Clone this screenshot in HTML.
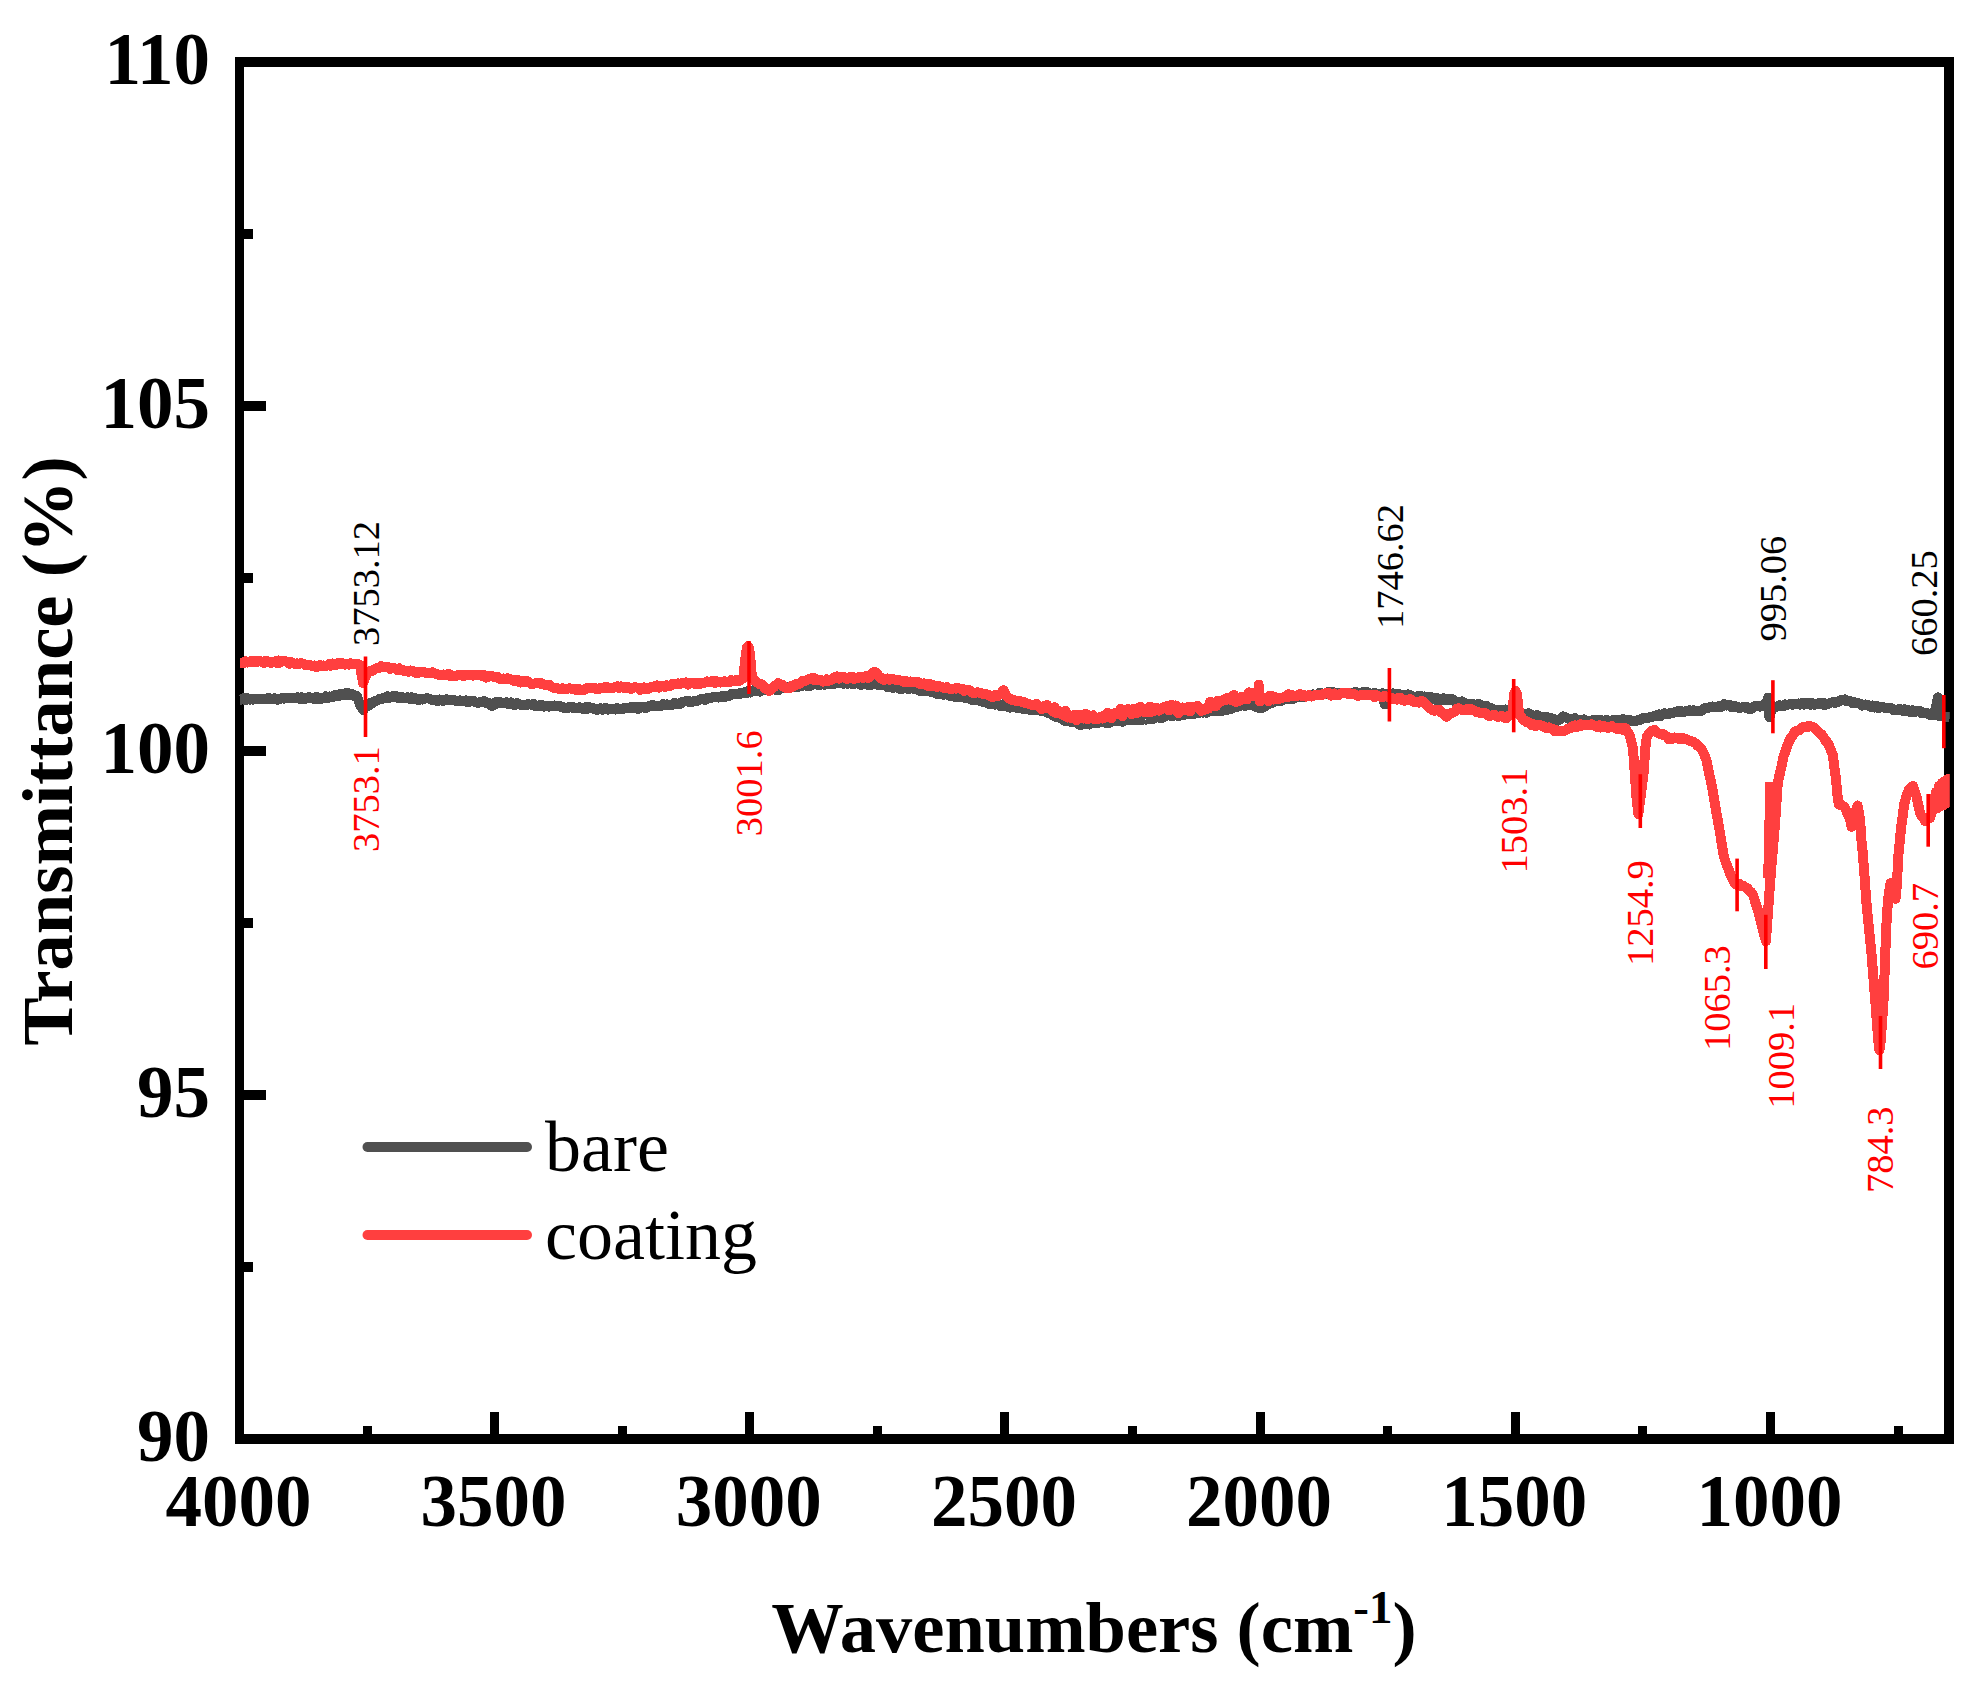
<!DOCTYPE html>
<html lang="en"><head><meta charset="utf-8"><title>FTIR transmittance spectra: bare vs coating</title>
<style>
html,body{margin:0;padding:0;background:#fff;}
body{width:1986px;height:1693px;overflow:hidden;}
svg{display:block;}
text{font-family:"Liberation Serif","Times New Roman",Times,serif;}
.b{font-weight:bold;font-size:73px;fill:#000;}
.lg{font-size:72px;fill:#000;}
.an{font-size:38.5px;}
</style></head><body>
<svg width="1986" height="1693" viewBox="0 0 1986 1693" role="img" aria-label="FTIR transmittance spectra of bare and coated samples">
<rect width="1986" height="1693" fill="#fff"/>
<g fill="#000" shape-rendering="crispEdges">
<rect x="235" y="57" width="9" height="1387"/>
<rect x="1944" y="57" width="10" height="1387"/>
<rect x="235" y="57" width="1719" height="10"/>
<rect x="235" y="1434" width="1719" height="10"/>
<rect x="244" y="401.2" width="22" height="10"/>
<rect x="244" y="745.5" width="22" height="10"/>
<rect x="244" y="1089.8" width="22" height="10"/>
<rect x="244" y="229.1" width="9" height="10"/>
<rect x="244" y="573.4" width="9" height="10"/>
<rect x="244" y="917.6" width="9" height="10"/>
<rect x="244" y="1261.9" width="9" height="10"/>
<rect x="490.1" y="1412" width="9" height="22"/>
<rect x="745.3" y="1412" width="9" height="22"/>
<rect x="1000.4" y="1412" width="9" height="22"/>
<rect x="1255.6" y="1412" width="9" height="22"/>
<rect x="1510.7" y="1412" width="9" height="22"/>
<rect x="1765.9" y="1412" width="9" height="22"/>
<rect x="362.6" y="1426" width="9" height="8"/>
<rect x="617.7" y="1426" width="9" height="8"/>
<rect x="872.9" y="1426" width="9" height="8"/>
<rect x="1128.0" y="1426" width="9" height="8"/>
<rect x="1383.2" y="1426" width="9" height="8"/>
<rect x="1638.3" y="1426" width="9" height="8"/>
<rect x="1893.5" y="1426" width="9" height="8"/>
</g>
<g class="b" text-anchor="end">
<text x="210" y="84.0">110</text>
<text x="210" y="428.2">105</text>
<text x="210" y="772.5">100</text>
<text x="210" y="1116.8">95</text>
<text x="210" y="1461.0">90</text>
</g>
<g class="b" text-anchor="middle">
<text x="238.5" y="1526">4000</text>
<text x="493.6" y="1526">3500</text>
<text x="748.8" y="1526">3000</text>
<text x="1003.9" y="1526">2500</text>
<text x="1259.1" y="1526">2000</text>
<text x="1514.2" y="1526">1500</text>
<text x="1769.4" y="1526">1000</text>
</g>
<text class="b" style="font-size:72.5px" text-anchor="middle" x="1094" y="1652">Wavenumbers (cm<tspan style="font-size:47px" dy="-29">-1</tspan><tspan dy="29">)</tspan></text>
<text class="b" style="font-size:72.6px" text-anchor="middle" transform="translate(72.3 751) rotate(-90)">Transmittance (%)</text>
<clipPath id="plotclip"><rect x="238.9" y="60" width="1710.9" height="1380"/></clipPath>
<g fill="none" stroke-linejoin="round" stroke-linecap="butt" shape-rendering="crispEdges" clip-path="url(#plotclip)">
<path stroke="#505050" stroke-width="10" d="M240.0 699.5 L241.9 699.5 L243.8 698.2 L245.8 700.3 L247.7 698.4 L249.6 699.6 L251.5 699.4 L253.4 699.6 L255.3 698.8 L257.3 699.0 L259.2 699.4 L261.1 699.0 L263.0 699.5 L264.9 699.0 L266.9 698.9 L268.8 697.8 L270.7 699.3 L272.6 699.0 L274.5 698.3 L276.4 699.6 L278.4 699.6 L280.3 698.8 L282.2 698.0 L284.1 698.7 L286.0 697.7 L288.0 697.7 L289.9 698.5 L291.8 697.6 L293.7 698.4 L295.6 698.5 L297.5 697.3 L299.5 698.7 L301.4 697.3 L303.3 698.9 L305.2 699.0 L307.1 698.2 L309.1 697.0 L311.0 698.1 L312.9 697.8 L314.8 699.2 L316.7 697.0 L318.6 698.8 L320.6 699.0 L322.4 698.1 L324.1 698.1 L325.9 696.4 L327.7 697.9 L329.5 696.5 L331.3 697.3 L333.1 696.9 L334.9 695.0 L336.7 696.1 L338.4 696.2 L340.1 694.0 L341.9 694.3 L343.6 695.0 L345.3 693.4 L347.0 694.8 L348.8 693.2 L350.4 694.8 L352.0 694.1 L353.6 695.3 L355.2 696.7 L356.8 696.2 L358.2 699.6 L359.5 703.2 L360.8 706.4 L362.1 708.1 L363.3 710.2 L364.6 708.2 L365.9 707.2 L367.6 705.8 L369.2 705.2 L370.9 702.9 L372.6 703.2 L374.3 701.2 L376.0 701.1 L377.6 700.4 L379.3 699.1 L381.0 699.3 L382.7 698.2 L384.3 697.9 L386.0 698.2 L387.7 696.2 L389.4 697.7 L391.1 696.6 L392.9 696.2 L394.7 697.4 L396.6 696.3 L398.4 698.2 L400.2 697.5 L402.0 697.1 L403.9 698.3 L405.7 697.7 L407.5 697.3 L409.4 698.8 L411.2 697.4 L413.1 699.4 L415.0 698.1 L416.9 699.2 L418.8 700.2 L420.6 699.3 L422.5 699.6 L424.4 698.9 L426.3 698.3 L428.2 698.5 L430.1 698.9 L432.0 700.1 L433.9 699.8 L435.7 700.1 L437.6 701.2 L439.5 699.5 L441.4 699.8 L443.3 700.9 L445.2 699.4 L447.1 699.4 L449.0 700.4 L450.9 699.8 L452.7 700.5 L454.6 700.2 L456.5 701.2 L458.4 701.3 L460.3 700.4 L462.2 701.5 L464.1 701.2 L466.0 700.4 L467.8 702.5 L469.7 700.8 L471.6 700.6 L473.4 700.6 L475.2 702.1 L477.0 702.7 L478.8 702.6 L480.6 701.8 L482.4 701.6 L484.2 701.1 L485.9 702.8 L487.7 702.6 L489.1 703.5 L490.4 705.1 L491.8 706.1 L493.1 705.5 L494.4 704.0 L495.8 701.9 L497.7 703.6 L499.5 701.7 L501.4 703.0 L503.3 702.9 L505.1 702.6 L507.0 702.3 L508.9 704.2 L510.8 702.5 L512.6 703.9 L514.5 705.0 L516.4 703.2 L518.2 703.5 L520.1 704.6 L522.0 704.5 L523.9 705.0 L525.8 705.5 L527.7 704.1 L529.6 704.5 L531.6 704.6 L533.5 704.1 L535.4 706.3 L537.3 706.1 L539.2 706.1 L541.2 704.5 L543.1 706.6 L545.0 706.5 L546.9 705.9 L548.8 706.7 L550.7 706.1 L552.7 705.7 L554.6 705.5 L556.5 705.9 L558.4 705.6 L560.3 706.4 L562.3 707.6 L564.2 707.5 L566.1 708.0 L568.0 707.8 L569.9 706.7 L571.8 707.6 L573.8 707.4 L575.7 708.3 L577.6 707.8 L579.5 707.2 L581.4 708.2 L583.4 709.1 L585.3 707.4 L587.2 709.1 L589.1 707.1 L591.0 707.8 L592.9 707.8 L594.9 709.2 L596.8 709.8 L598.7 709.4 L600.6 708.4 L602.5 709.9 L604.4 708.4 L606.2 708.1 L608.0 709.7 L609.9 708.9 L611.7 709.0 L613.5 708.8 L615.4 709.5 L617.2 708.1 L619.0 709.0 L620.8 708.5 L622.7 708.9 L624.6 707.8 L626.5 708.5 L628.5 708.1 L630.4 707.4 L632.3 707.2 L634.2 708.3 L636.2 706.8 L638.1 709.0 L640.0 707.1 L641.9 706.6 L643.8 706.6 L645.8 708.2 L647.7 706.6 L649.6 705.9 L651.5 705.4 L653.4 705.2 L655.3 706.5 L657.3 706.1 L659.2 706.0 L661.1 705.9 L663.0 704.1 L664.9 705.0 L666.9 704.3 L668.8 705.1 L670.7 704.8 L672.6 704.8 L674.5 702.6 L676.4 704.2 L678.4 704.1 L680.3 703.9 L682.2 701.7 L684.1 701.7 L686.0 701.2 L688.0 700.7 L689.9 702.3 L691.8 701.9 L693.7 701.2 L695.6 701.3 L697.5 700.6 L699.5 699.6 L701.4 698.8 L703.3 698.5 L705.2 699.8 L707.1 698.2 L709.1 698.2 L711.0 698.1 L712.9 696.9 L714.8 697.2 L716.7 697.0 L718.6 697.6 L720.6 696.6 L722.4 696.1 L724.3 697.2 L726.2 695.9 L728.1 696.3 L730.0 695.5 L731.8 693.8 L733.7 694.3 L735.6 694.0 L737.5 694.4 L739.4 693.2 L741.2 693.6 L743.1 692.9 L745.0 691.9 L746.9 693.0 L748.8 690.9 L750.7 692.4 L752.6 690.7 L754.4 690.1 L756.3 690.3 L758.2 691.4 L760.1 691.7 L762.0 689.3 L763.9 690.2 L765.8 690.0 L767.7 690.5 L769.6 688.9 L771.5 689.4 L773.4 688.9 L775.3 689.8 L777.2 688.2 L779.1 689.7 L781.0 687.9 L782.9 687.5 L784.8 688.4 L786.7 687.7 L788.5 686.6 L790.4 687.6 L792.3 686.1 L794.2 687.5 L796.1 687.1 L798.0 687.0 L799.9 686.4 L801.8 685.6 L803.6 685.5 L805.5 685.2 L807.4 686.1 L809.3 684.0 L811.2 685.7 L813.1 683.5 L815.0 683.8 L816.9 683.8 L818.8 685.3 L820.6 684.2 L822.5 683.7 L824.4 684.8 L826.3 683.1 L828.2 683.6 L830.1 683.6 L832.0 684.0 L833.9 683.9 L835.7 683.5 L837.6 682.7 L839.5 682.5 L841.4 681.9 L843.3 683.7 L845.2 683.4 L847.2 683.7 L849.1 682.5 L851.0 683.2 L852.9 684.2 L854.8 683.8 L856.8 682.9 L858.7 683.8 L860.6 685.0 L862.5 683.5 L864.4 683.5 L866.3 683.9 L868.3 685.0 L870.2 685.5 L872.1 683.9 L874.0 684.0 L875.9 684.4 L877.9 684.7 L879.8 685.3 L881.7 684.6 L883.6 685.2 L885.5 685.1 L887.4 687.2 L889.4 686.9 L891.3 685.7 L893.2 687.9 L895.1 686.1 L897.0 687.0 L899.0 688.7 L900.9 688.5 L902.8 688.6 L904.7 688.1 L906.6 687.8 L908.5 689.1 L910.5 688.1 L912.4 688.5 L914.3 689.2 L916.2 688.6 L918.1 689.7 L920.1 690.9 L922.0 690.9 L923.9 690.8 L925.8 691.4 L927.7 691.3 L929.6 691.0 L931.6 692.3 L933.5 692.2 L935.4 693.3 L937.3 694.0 L939.2 693.3 L941.2 693.9 L943.1 694.7 L945.0 694.3 L946.9 694.2 L948.8 695.6 L950.7 696.3 L952.7 696.4 L954.6 696.6 L956.5 697.2 L958.4 697.2 L960.3 697.4 L962.3 697.4 L964.2 697.5 L966.1 698.5 L968.0 697.8 L969.9 698.8 L971.8 700.0 L973.8 700.2 L975.7 700.4 L977.6 700.0 L979.5 700.8 L981.4 701.2 L983.4 702.0 L985.3 701.9 L987.2 702.8 L989.1 703.8 L991.0 702.5 L992.9 703.9 L994.9 704.6 L996.8 704.1 L998.7 704.7 L1000.6 706.2 L1002.5 704.5 L1004.4 705.9 L1006.2 705.3 L1008.0 707.0 L1009.9 707.6 L1011.7 706.9 L1013.5 706.3 L1015.4 707.6 L1017.2 707.8 L1019.0 708.5 L1020.8 708.3 L1022.7 708.9 L1024.6 709.5 L1026.5 708.8 L1028.5 708.7 L1030.4 710.1 L1032.3 708.4 L1034.2 709.7 L1036.2 709.1 L1038.1 710.1 L1040.0 708.9 L1041.8 711.2 L1043.7 710.9 L1045.5 711.2 L1047.3 712.4 L1049.2 713.5 L1051.0 713.6 L1052.8 715.2 L1054.6 716.0 L1056.5 717.3 L1058.3 717.5 L1060.1 718.1 L1062.0 718.6 L1063.8 720.1 L1065.6 721.1 L1067.5 720.7 L1069.3 720.6 L1071.1 722.3 L1073.0 722.0 L1074.8 722.1 L1076.6 722.5 L1078.5 724.3 L1080.3 725.0 L1082.1 724.4 L1083.9 723.8 L1085.8 723.9 L1087.6 722.9 L1089.4 724.4 L1091.3 722.8 L1093.1 723.3 L1094.9 723.5 L1096.8 723.4 L1098.6 722.4 L1100.4 721.7 L1102.3 722.3 L1104.1 721.1 L1105.9 722.8 L1107.7 721.5 L1109.6 722.7 L1111.4 721.1 L1113.2 721.3 L1115.1 720.9 L1116.9 721.2 L1118.7 720.6 L1120.6 720.1 L1122.5 721.6 L1124.4 720.3 L1126.3 720.1 L1128.2 720.0 L1130.2 720.2 L1132.1 719.9 L1134.0 720.2 L1135.9 720.1 L1137.8 719.2 L1139.7 720.3 L1141.7 720.0 L1143.6 717.9 L1145.5 719.5 L1147.4 719.5 L1149.3 719.0 L1151.3 717.3 L1153.2 718.8 L1155.1 718.1 L1157.0 716.4 L1158.9 716.2 L1160.8 718.3 L1162.8 717.3 L1164.7 716.2 L1166.6 715.6 L1168.5 715.4 L1170.4 715.4 L1172.4 716.4 L1174.3 715.2 L1176.2 714.5 L1178.1 716.0 L1180.0 715.5 L1181.9 713.8 L1183.9 715.2 L1185.8 714.3 L1187.7 714.5 L1189.6 714.0 L1191.5 714.3 L1193.5 713.8 L1195.4 713.7 L1197.3 712.0 L1199.2 712.9 L1201.1 712.3 L1203.0 712.7 L1204.8 711.8 L1206.6 712.8 L1208.5 711.9 L1210.3 711.1 L1212.1 711.0 L1213.9 710.6 L1215.8 711.4 L1217.6 710.3 L1219.4 711.2 L1221.3 710.5 L1223.1 710.6 L1224.9 710.1 L1226.8 709.6 L1228.6 709.7 L1230.4 707.4 L1232.3 708.6 L1234.1 707.3 L1235.9 706.9 L1237.7 706.6 L1239.6 706.4 L1241.4 704.8 L1243.1 704.8 L1244.8 706.1 L1246.4 703.8 L1248.1 705.1 L1249.8 705.0 L1251.5 703.6 L1253.2 705.3 L1254.8 706.1 L1256.5 707.2 L1258.2 706.6 L1259.9 708.5 L1261.6 708.2 L1263.2 707.1 L1264.9 706.8 L1266.6 704.4 L1268.3 704.5 L1269.9 703.3 L1271.6 701.8 L1273.5 702.5 L1275.4 701.1 L1277.3 701.0 L1279.2 700.8 L1281.1 700.9 L1283.0 699.4 L1284.8 699.5 L1286.7 699.1 L1288.6 699.1 L1290.5 699.3 L1292.4 697.8 L1294.3 698.6 L1296.2 697.3 L1298.1 697.2 L1299.9 696.3 L1301.8 696.5 L1303.7 697.3 L1305.5 696.3 L1307.3 696.3 L1309.2 695.0 L1311.0 694.7 L1312.8 694.4 L1314.6 694.7 L1316.5 694.6 L1318.3 694.6 L1320.1 692.7 L1322.0 694.0 L1323.8 694.3 L1325.6 693.4 L1327.5 692.1 L1329.3 692.6 L1331.1 691.8 L1333.0 692.1 L1334.8 693.8 L1336.6 693.0 L1338.5 693.0 L1340.3 693.2 L1342.1 693.5 L1344.0 692.8 L1346.0 692.8 L1347.9 692.9 L1349.8 693.1 L1351.7 692.9 L1353.6 693.2 L1355.5 692.0 L1357.5 693.2 L1359.4 692.8 L1361.3 693.6 L1363.2 692.0 L1365.1 692.2 L1367.1 691.9 L1369.0 693.8 L1370.9 694.2 L1372.8 693.6 L1374.7 692.9 L1376.6 694.1 L1378.6 694.1 L1380.5 693.6 L1382.4 693.3 L1383.6 698.9 L1384.8 704.5 L1386.1 699.4 L1387.4 694.3 L1389.3 694.9 L1391.2 695.7 L1393.1 693.5 L1395.0 694.8 L1396.9 693.5 L1398.8 693.8 L1400.6 695.6 L1402.5 695.0 L1404.4 696.0 L1406.2 695.1 L1408.0 694.3 L1409.9 695.3 L1411.7 696.0 L1413.5 697.0 L1415.4 697.3 L1417.2 696.3 L1419.0 696.3 L1420.8 695.7 L1422.7 697.2 L1424.6 696.5 L1426.5 696.7 L1428.5 696.7 L1430.4 697.0 L1432.3 698.8 L1434.2 697.8 L1436.2 700.0 L1438.1 698.3 L1440.0 700.5 L1441.7 698.6 L1443.5 698.3 L1445.2 700.1 L1447.0 698.9 L1448.7 700.2 L1450.5 698.9 L1452.4 699.1 L1454.4 701.1 L1456.4 701.4 L1458.3 702.2 L1460.3 702.3 L1462.3 701.4 L1464.2 703.0 L1466.2 703.7 L1468.1 703.5 L1470.1 704.9 L1472.1 703.7 L1474.0 705.6 L1476.0 705.4 L1478.0 704.1 L1479.9 704.4 L1481.9 706.2 L1483.9 706.9 L1485.8 705.7 L1487.6 706.9 L1489.3 708.3 L1491.1 708.0 L1492.8 710.0 L1494.6 710.0 L1496.3 709.6 L1498.1 710.3 L1500.0 710.7 L1501.8 710.3 L1503.6 710.8 L1505.5 709.5 L1507.4 711.3 L1509.4 710.7 L1511.4 711.6 L1513.3 711.9 L1515.3 711.8 L1517.2 712.0 L1519.2 713.2 L1521.2 713.9 L1523.1 713.9 L1525.1 713.7 L1527.1 713.5 L1529.0 713.3 L1531.0 715.7 L1533.0 715.4 L1534.9 716.0 L1536.9 715.2 L1538.8 716.2 L1540.8 717.4 L1542.8 717.4 L1544.7 717.2 L1546.6 717.0 L1548.5 717.7 L1550.4 719.0 L1552.2 718.4 L1554.1 719.4 L1556.0 719.7 L1557.8 720.6 L1559.6 719.6 L1561.3 717.9 L1563.1 716.4 L1565.0 717.3 L1567.0 718.1 L1569.0 718.8 L1570.9 719.7 L1572.8 720.0 L1574.7 718.1 L1576.5 720.1 L1578.4 720.2 L1580.3 720.5 L1582.1 719.9 L1584.0 719.3 L1585.9 720.8 L1587.8 720.9 L1589.6 720.7 L1591.5 721.4 L1593.4 720.1 L1595.2 719.6 L1597.1 720.9 L1599.0 721.5 L1600.8 719.9 L1602.7 721.3 L1604.6 721.7 L1606.5 719.9 L1608.3 720.8 L1610.2 720.9 L1612.1 720.3 L1613.9 719.6 L1615.8 719.7 L1617.7 720.9 L1619.6 721.0 L1621.4 720.1 L1623.3 719.1 L1625.2 721.0 L1627.0 720.9 L1628.9 719.6 L1630.8 720.6 L1632.6 721.4 L1634.5 721.4 L1636.4 720.6 L1638.4 720.0 L1640.3 719.7 L1642.3 718.4 L1644.2 717.9 L1646.1 717.5 L1647.9 718.2 L1649.7 717.1 L1651.6 717.1 L1653.4 716.4 L1655.2 716.2 L1657.1 715.1 L1658.9 714.4 L1660.7 716.1 L1662.6 714.3 L1664.5 713.4 L1666.5 714.3 L1668.5 714.3 L1670.4 712.6 L1672.4 713.2 L1674.4 712.3 L1676.3 712.4 L1678.3 710.9 L1680.2 710.6 L1682.2 712.5 L1684.1 712.1 L1686.0 711.0 L1687.8 711.1 L1689.7 710.2 L1691.6 711.3 L1693.4 710.3 L1695.3 711.4 L1697.3 710.8 L1699.3 710.7 L1701.3 710.8 L1703.2 708.9 L1705.1 708.0 L1707.0 708.0 L1708.9 707.5 L1710.9 706.9 L1712.8 706.5 L1714.7 707.2 L1716.6 707.5 L1718.5 706.2 L1720.5 706.9 L1722.4 706.4 L1724.3 704.2 L1726.2 705.6 L1728.1 705.4 L1730.0 705.0 L1731.9 707.1 L1733.8 705.7 L1735.7 706.7 L1737.6 707.1 L1739.5 708.0 L1741.4 707.6 L1743.3 707.2 L1745.2 707.6 L1747.1 707.1 L1749.0 709.2 L1750.9 709.3 L1752.7 707.3 L1754.4 706.4 L1756.2 706.3 L1758.0 706.0 L1759.7 706.6 L1761.5 706.1 L1763.3 705.5 L1764.6 703.5 L1765.9 704.1 L1767.0 701.0 L1768.1 697.7 L1769.5 717.5 L1770.8 711.7 L1772.1 705.8 L1773.9 706.9 L1775.7 707.1 L1777.6 706.3 L1779.5 705.3 L1781.4 705.8 L1783.3 706.1 L1785.1 704.4 L1787.0 704.8 L1788.9 704.5 L1790.8 704.0 L1792.7 704.7 L1794.6 703.8 L1796.5 703.9 L1798.4 703.5 L1800.3 704.6 L1802.2 702.9 L1804.0 704.5 L1806.0 703.1 L1808.0 702.6 L1810.0 704.8 L1812.0 703.0 L1814.0 704.7 L1816.0 704.4 L1818.0 704.4 L1820.0 702.6 L1821.6 703.5 L1823.2 702.9 L1824.8 705.0 L1826.8 704.4 L1828.8 703.6 L1830.8 702.8 L1832.7 702.2 L1834.7 702.9 L1836.7 701.8 L1838.7 701.7 L1840.7 700.3 L1842.7 700.1 L1844.7 699.4 L1846.6 701.3 L1848.5 701.4 L1850.4 701.1 L1852.4 703.1 L1854.3 702.3 L1856.2 703.1 L1858.2 703.1 L1860.1 703.8 L1862.0 705.6 L1863.8 704.7 L1865.6 704.5 L1867.3 705.5 L1869.1 705.4 L1870.9 707.0 L1872.7 705.4 L1874.4 707.6 L1876.3 705.8 L1878.2 707.9 L1880.1 707.7 L1882.1 706.9 L1884.0 707.7 L1885.9 707.5 L1887.8 707.7 L1889.7 707.8 L1891.6 708.5 L1893.5 710.2 L1895.4 710.4 L1897.3 710.5 L1899.2 708.8 L1901.1 709.5 L1903.0 711.1 L1905.0 709.4 L1906.9 711.2 L1908.8 710.4 L1910.7 712.3 L1912.6 710.2 L1914.5 712.3 L1916.4 711.5 L1918.3 711.2 L1920.2 711.1 L1922.1 713.3 L1924.0 712.8 L1926.0 712.6 L1928.0 713.6 L1930.0 715.1 L1932.0 714.1 L1934.0 715.3 L1935.2 709.8 L1936.4 704.7 L1937.9 697.4 L1939.0 707.3 L1940.2 716.4 L1941.7 716.1 L1943.3 716.1 L1944.8 717.5 L1946.4 717.2 L1948.2 716.6 L1950.1 717.2"/>
<path stroke="#ff3f3f" stroke-width="10" d="M240.0 662.6 L241.8 662.6 L243.7 663.0 L245.5 661.3 L247.3 662.6 L249.2 662.1 L251.0 661.2 L252.8 662.4 L254.6 661.1 L256.5 662.1 L258.3 661.1 L260.1 661.1 L262.0 662.0 L263.8 663.0 L265.6 661.0 L267.5 661.3 L269.3 662.3 L271.1 663.1 L273.0 662.1 L274.8 661.5 L276.6 663.0 L278.5 660.4 L280.3 662.5 L282.1 661.3 L283.9 661.2 L285.8 661.4 L287.6 662.1 L289.4 663.6 L291.3 662.3 L293.1 663.5 L294.9 663.9 L296.8 663.4 L298.6 664.1 L300.4 663.2 L302.2 663.4 L304.0 664.0 L305.8 665.4 L307.6 665.0 L309.4 664.9 L311.2 665.8 L313.0 665.7 L314.7 665.5 L316.5 667.0 L318.3 666.6 L320.1 665.2 L321.8 665.8 L323.6 665.5 L325.3 666.2 L327.1 665.6 L328.9 664.3 L330.6 665.9 L332.5 663.5 L334.3 664.2 L336.1 665.1 L338.0 663.3 L339.8 664.2 L341.6 662.9 L343.5 664.5 L345.3 664.6 L347.1 664.0 L348.9 664.7 L350.8 663.2 L352.6 664.3 L354.5 664.3 L356.3 664.4 L358.2 664.3 L360.0 664.8 L361.5 674.5 L363.1 683.2 L364.9 678.1 L366.5 674.2 L368.1 671.7 L369.9 671.0 L371.8 671.2 L373.6 670.2 L375.5 668.5 L377.3 668.2 L379.1 668.2 L381.0 666.1 L382.8 667.4 L384.6 666.9 L386.5 667.0 L388.3 667.0 L390.1 669.0 L392.0 667.7 L393.8 668.2 L395.6 668.7 L397.5 670.2 L399.3 668.4 L401.1 669.6 L403.0 670.1 L404.8 671.2 L406.6 671.3 L408.5 671.7 L410.3 670.5 L412.1 671.1 L413.9 671.3 L415.8 672.8 L417.6 673.3 L419.4 671.6 L421.3 671.9 L423.1 672.2 L424.9 672.3 L426.8 673.1 L428.6 673.5 L430.4 672.8 L432.3 672.3 L434.1 673.5 L435.9 673.5 L437.7 674.2 L439.6 675.3 L441.4 674.8 L443.2 674.5 L445.1 674.9 L446.9 675.2 L448.7 673.7 L450.6 676.0 L452.4 675.8 L454.2 676.2 L456.1 676.1 L457.9 675.2 L459.7 675.3 L461.6 674.6 L463.4 676.1 L465.3 674.7 L467.2 674.7 L469.1 675.2 L471.0 675.1 L472.9 675.7 L474.8 674.9 L476.7 674.9 L478.5 675.3 L480.4 675.3 L482.3 676.0 L484.2 675.2 L486.1 677.6 L488.0 676.9 L489.9 675.7 L491.8 676.1 L493.7 676.7 L495.5 677.0 L497.4 676.8 L499.3 678.8 L501.2 679.5 L503.1 678.5 L505.0 678.9 L506.9 678.3 L508.8 678.6 L510.6 679.5 L512.5 679.6 L514.4 681.3 L516.3 680.0 L518.2 680.0 L520.1 682.5 L522.0 681.8 L523.8 681.0 L525.6 682.2 L527.5 681.1 L529.3 682.6 L531.1 683.9 L533.0 683.8 L534.8 683.5 L536.6 682.6 L538.5 683.1 L540.3 682.7 L542.1 684.4 L544.0 684.3 L545.8 685.3 L547.7 684.8 L549.6 685.0 L551.4 686.8 L553.3 687.7 L555.1 687.8 L557.0 688.2 L558.8 688.7 L560.7 689.0 L562.6 688.3 L564.4 689.4 L566.3 689.4 L568.1 688.5 L569.9 688.4 L571.7 688.9 L573.4 688.7 L575.2 689.8 L577.0 690.4 L578.8 688.9 L580.6 690.1 L582.4 690.1 L584.2 689.9 L586.1 688.3 L587.9 687.8 L589.7 687.7 L591.6 687.5 L593.4 687.5 L595.2 688.5 L597.0 689.1 L598.9 688.9 L600.7 687.8 L602.5 688.2 L604.4 688.5 L606.2 686.5 L608.0 688.0 L609.9 688.5 L611.7 688.1 L613.5 687.9 L615.4 687.1 L617.2 686.2 L619.0 687.8 L620.8 686.4 L622.7 687.6 L624.6 688.2 L626.5 687.0 L628.5 687.2 L630.4 688.8 L632.3 688.5 L634.2 687.3 L636.2 687.4 L638.1 687.7 L640.0 689.8 L641.9 689.3 L643.8 687.5 L645.8 688.9 L647.7 689.0 L649.6 688.0 L651.5 687.0 L653.4 687.3 L655.3 686.0 L657.3 685.4 L659.2 687.6 L661.1 686.5 L663.0 686.0 L664.9 686.8 L666.9 685.3 L668.8 686.1 L670.7 685.8 L672.6 684.0 L674.5 683.9 L676.4 683.7 L678.4 683.4 L680.3 684.0 L682.2 683.0 L684.1 683.4 L686.0 682.5 L688.0 684.5 L689.9 683.0 L691.8 683.1 L693.7 683.4 L695.6 684.2 L697.5 682.8 L699.5 684.0 L701.4 682.8 L703.3 682.8 L705.2 682.7 L707.1 681.3 L709.1 682.3 L711.0 681.5 L712.9 681.0 L714.8 683.0 L716.7 681.3 L718.6 682.0 L720.6 682.6 L722.4 682.0 L724.2 681.3 L726.0 681.6 L727.8 681.6 L729.6 682.1 L731.4 680.2 L733.3 681.3 L735.1 680.3 L736.9 680.3 L738.7 681.2 L740.2 680.0 L741.6 679.3 L743.1 678.4 L744.5 666.4 L745.9 654.1 L746.9 647.8 L748.0 646.1 L749.0 647.7 L750.0 654.2 L751.0 666.2 L752.0 678.4 L753.6 679.4 L755.2 681.3 L756.8 682.1 L758.3 683.3 L759.8 684.3 L761.3 684.1 L762.9 685.5 L764.4 687.5 L765.9 688.9 L767.4 689.4 L768.9 690.8 L770.6 690.0 L772.3 688.1 L773.9 687.1 L775.3 685.3 L776.6 684.5 L778.0 683.3 L779.8 684.6 L781.6 684.4 L783.4 686.5 L785.2 687.6 L787.0 687.7 L788.8 688.3 L790.5 687.7 L792.2 685.5 L793.9 686.1 L795.7 684.2 L797.4 683.6 L799.1 683.8 L800.8 682.9 L802.6 680.9 L804.3 680.9 L806.0 680.5 L807.7 679.6 L809.5 678.7 L811.2 678.3 L812.9 679.6 L814.7 678.4 L816.4 680.0 L818.1 680.1 L819.8 679.5 L821.6 680.6 L823.3 681.6 L825.0 680.9 L826.7 679.4 L828.5 680.9 L830.2 679.9 L831.9 679.8 L833.6 677.4 L835.4 677.1 L837.2 676.4 L839.1 678.5 L841.0 677.1 L842.8 676.7 L844.7 677.5 L846.6 678.9 L848.5 678.6 L850.3 677.1 L852.2 676.8 L854.1 678.9 L855.9 677.9 L857.8 678.3 L859.7 676.6 L861.6 676.6 L863.2 678.0 L864.8 677.1 L866.4 676.1 L868.0 678.0 L869.6 676.9 L871.3 675.3 L873.0 672.5 L874.6 671.8 L876.3 672.5 L878.0 675.4 L879.7 676.7 L880.7 677.5 L881.7 678.9 L883.6 680.0 L885.5 678.6 L887.4 678.5 L889.4 679.8 L891.3 679.3 L893.2 679.2 L895.1 679.6 L897.0 679.5 L899.0 680.2 L900.9 680.7 L902.8 680.9 L904.7 682.3 L906.6 681.3 L908.5 682.1 L910.5 681.5 L912.4 682.2 L914.3 681.6 L916.2 682.4 L918.1 682.1 L920.1 684.1 L922.0 683.9 L923.9 683.3 L925.8 684.3 L927.7 685.7 L929.6 684.0 L931.6 686.0 L933.5 685.3 L935.4 685.8 L937.3 686.9 L939.2 686.1 L941.2 686.7 L943.1 687.4 L945.0 688.4 L946.9 687.1 L948.8 688.6 L950.7 688.6 L952.7 688.7 L954.6 688.4 L956.5 688.6 L958.4 688.2 L960.3 688.6 L962.3 688.8 L964.1 690.8 L966.0 690.0 L967.9 690.2 L969.8 690.4 L971.7 692.5 L973.6 692.9 L975.5 692.9 L977.4 692.3 L979.2 692.6 L981.1 693.1 L983.0 693.9 L984.9 693.6 L986.8 694.6 L988.7 694.6 L990.6 696.6 L992.5 697.0 L994.1 695.8 L995.7 694.8 L997.3 696.4 L998.9 694.6 L1000.5 694.7 L1002.0 692.1 L1003.5 690.3 L1004.9 692.7 L1006.2 695.1 L1007.6 697.0 L1009.3 698.6 L1010.9 698.9 L1012.6 700.3 L1014.6 700.2 L1016.5 701.3 L1018.5 700.8 L1020.4 701.1 L1022.4 702.1 L1024.3 702.2 L1026.3 703.4 L1028.3 703.6 L1030.2 704.5 L1032.2 704.6 L1034.1 705.1 L1036.1 703.8 L1038.0 705.7 L1040.0 706.6 L1041.8 709.2 L1043.7 706.4 L1045.5 705.6 L1047.3 705.1 L1049.2 708.9 L1051.0 708.9 L1052.8 711.7 L1054.6 707.2 L1056.5 713.1 L1058.3 710.6 L1060.1 713.1 L1062.0 714.7 L1063.8 712.8 L1065.6 710.9 L1067.5 717.6 L1069.3 715.3 L1071.1 718.1 L1073.0 715.3 L1074.8 714.9 L1076.6 720.0 L1078.5 716.5 L1080.3 715.1 L1082.1 716.6 L1083.9 718.6 L1085.8 713.8 L1087.6 719.0 L1089.4 717.7 L1091.3 718.2 L1093.1 715.3 L1094.9 719.4 L1096.8 719.4 L1098.6 718.4 L1100.4 716.5 L1102.3 718.6 L1104.1 715.4 L1105.9 717.6 L1107.7 712.8 L1109.6 716.5 L1111.4 718.2 L1113.2 713.6 L1115.1 712.9 L1116.9 713.1 L1118.7 713.8 L1120.6 708.6 L1122.4 716.2 L1124.2 711.6 L1126.1 710.0 L1127.9 709.0 L1129.7 710.1 L1131.5 714.3 L1133.4 709.0 L1135.2 709.0 L1137.0 713.0 L1138.9 707.9 L1140.7 706.7 L1142.5 710.9 L1144.4 712.0 L1146.2 710.3 L1148.0 712.2 L1149.9 706.5 L1151.7 711.8 L1153.5 711.2 L1155.4 707.6 L1157.2 708.1 L1159.0 710.5 L1160.8 709.4 L1162.5 708.3 L1164.1 706.9 L1165.7 708.6 L1167.3 705.7 L1168.9 710.2 L1170.2 709.8 L1171.6 705.0 L1172.9 706.7 L1174.3 707.6 L1175.6 705.5 L1177.0 712.0 L1178.8 713.1 L1180.7 707.8 L1182.5 707.5 L1184.4 710.1 L1186.3 709.8 L1188.1 706.8 L1190.0 711.4 L1191.8 709.0 L1193.7 706.9 L1195.6 707.3 L1197.4 705.7 L1199.3 708.1 L1201.1 710.8 L1203.0 709.9 L1204.8 709.7 L1206.6 707.5 L1208.5 708.6 L1210.3 701.7 L1212.1 703.3 L1213.9 705.7 L1215.8 706.1 L1217.6 700.8 L1219.4 701.1 L1221.3 701.6 L1223.1 699.8 L1224.9 700.4 L1226.8 698.0 L1228.6 698.1 L1230.4 699.8 L1232.3 696.3 L1234.1 695.0 L1235.9 702.0 L1237.7 699.7 L1239.6 700.8 L1241.4 696.9 L1243.3 698.0 L1245.1 698.3 L1246.9 699.5 L1248.8 692.4 L1250.6 695.7 L1252.5 693.1 L1254.3 696.4 L1256.2 694.0 L1258.0 696.7 L1259.9 701.5 L1261.7 699.1 L1263.6 698.8 L1265.2 698.7 L1266.8 697.7 L1268.4 701.4 L1270.0 695.7 L1271.6 695.8 L1273.5 699.6 L1275.4 697.2 L1277.3 698.3 L1279.2 698.8 L1281.1 698.1 L1283.0 697.3 L1284.8 696.8 L1286.7 697.4 L1288.6 694.3 L1290.5 696.0 L1292.4 695.1 L1294.3 696.3 L1296.2 696.3 L1298.1 694.9 L1299.9 694.0 L1301.8 695.8 L1303.8 694.9 L1305.7 696.6 L1307.6 695.5 L1309.5 695.1 L1311.4 696.5 L1313.3 695.7 L1315.3 695.2 L1317.2 695.4 L1319.1 694.6 L1321.0 695.4 L1322.9 694.4 L1324.9 693.3 L1326.8 692.9 L1328.7 692.9 L1330.6 695.5 L1332.5 694.3 L1334.4 693.5 L1336.4 695.2 L1338.3 695.4 L1340.2 693.8 L1342.1 692.9 L1344.0 693.2 L1346.0 693.0 L1347.9 693.8 L1349.8 693.3 L1351.7 693.8 L1353.6 694.0 L1355.5 694.9 L1357.5 695.9 L1359.4 695.6 L1361.3 694.9 L1363.2 695.0 L1365.1 695.4 L1367.1 695.1 L1369.0 695.2 L1370.9 694.6 L1372.8 695.3 L1374.7 697.2 L1376.6 695.1 L1378.6 696.2 L1380.5 696.7 L1382.4 697.3 L1384.2 696.0 L1386.1 696.5 L1387.9 696.7 L1389.7 697.3 L1391.6 697.7 L1393.4 699.2 L1395.2 699.2 L1397.0 699.6 L1398.9 697.8 L1400.7 698.1 L1402.5 700.0 L1404.4 700.7 L1406.2 699.9 L1408.0 700.4 L1409.9 699.1 L1411.7 700.3 L1413.5 701.9 L1415.4 701.8 L1417.2 702.1 L1419.0 702.6 L1420.8 701.1 L1422.7 701.3 L1424.4 702.7 L1426.0 704.6 L1427.7 706.2 L1429.4 708.0 L1431.1 709.0 L1432.7 710.3 L1434.6 710.8 L1436.4 710.2 L1438.2 710.6 L1440.0 710.0 L1441.6 712.6 L1443.3 713.3 L1444.9 715.7 L1446.5 716.8 L1448.3 715.2 L1450.0 713.8 L1451.8 712.9 L1453.5 712.2 L1455.3 711.0 L1457.0 708.4 L1459.0 708.4 L1460.9 709.7 L1462.9 710.0 L1464.9 709.6 L1466.8 709.2 L1468.8 710.3 L1470.8 708.9 L1472.7 709.9 L1474.7 710.8 L1476.7 712.4 L1478.6 712.3 L1480.6 713.4 L1482.6 713.1 L1484.5 713.1 L1486.5 713.7 L1488.4 715.8 L1490.4 715.8 L1492.4 715.4 L1494.3 714.9 L1496.3 716.3 L1498.3 716.9 L1500.2 716.4 L1502.2 716.1 L1504.2 717.4 L1506.1 718.2 L1508.1 716.8 L1509.5 715.4 L1510.9 714.8 L1512.3 714.0 L1514.1 693.9 L1515.5 691.0 L1517.0 693.8 L1518.0 703.9 L1519.1 714.0 L1520.6 715.7 L1522.2 718.6 L1523.8 719.8 L1525.8 721.8 L1527.7 721.8 L1529.7 722.9 L1531.6 725.1 L1533.5 724.3 L1535.4 726.2 L1537.3 725.4 L1539.1 725.0 L1541.0 725.4 L1542.9 726.2 L1544.7 727.0 L1546.7 728.3 L1548.7 727.4 L1550.6 728.6 L1552.6 728.9 L1554.6 731.2 L1556.5 730.2 L1558.5 730.7 L1560.5 731.5 L1562.2 731.2 L1563.9 731.2 L1565.7 730.2 L1567.4 729.0 L1569.2 728.5 L1570.9 727.8 L1572.8 726.0 L1574.7 725.4 L1576.5 727.1 L1578.4 726.4 L1580.3 724.4 L1582.1 725.7 L1584.0 724.8 L1585.9 724.9 L1587.8 724.9 L1589.6 724.7 L1591.5 724.4 L1593.4 725.2 L1595.2 725.6 L1597.1 727.3 L1599.0 725.2 L1600.8 727.6 L1602.7 725.7 L1604.6 726.3 L1606.5 727.6 L1608.3 727.8 L1610.2 726.9 L1612.1 726.2 L1613.9 727.6 L1615.8 727.6 L1617.7 729.2 L1619.6 727.7 L1621.4 728.4 L1623.3 730.1 L1624.6 727.7 L1625.9 728.9 L1627.7 732.0 L1629.4 734.4 L1631.2 741.2 L1633.0 748.6 L1634.6 770.8 L1636.4 797.2 L1638.3 814.1 L1639.4 805.7 L1640.6 797.2 L1642.2 784.0 L1643.8 770.9 L1645.2 748.9 L1646.8 737.0 L1648.4 734.0 L1650.0 732.1 L1651.6 730.9 L1653.1 730.6 L1654.7 730.0 L1656.7 732.3 L1658.6 733.5 L1660.6 733.7 L1662.6 735.0 L1664.2 734.4 L1665.8 735.8 L1667.5 737.2 L1669.1 739.5 L1670.9 739.4 L1672.7 737.8 L1674.6 737.5 L1676.4 737.9 L1678.2 738.1 L1680.0 739.2 L1681.8 737.5 L1683.5 739.2 L1685.3 739.2 L1687.1 739.4 L1688.9 740.3 L1690.7 741.0 L1692.4 741.5 L1694.2 742.5 L1696.0 743.6 L1697.7 746.0 L1699.3 746.8 L1701.0 748.7 L1702.7 751.1 L1704.5 755.1 L1706.2 759.5 L1708.1 768.3 L1710.0 777.5 L1711.9 786.2 L1713.5 795.4 L1715.0 804.2 L1716.5 813.1 L1718.1 821.7 L1720.1 833.4 L1722.0 845.2 L1724.0 857.2 L1725.6 861.8 L1727.2 866.0 L1728.9 870.3 L1730.5 874.8 L1732.2 878.0 L1733.8 881.0 L1735.5 884.4 L1737.1 885.0 L1738.7 885.0 L1740.3 884.3 L1742.0 886.5 L1743.8 886.2 L1745.5 887.5 L1747.3 888.0 L1749.1 890.6 L1750.9 891.9 L1752.7 894.2 L1754.5 899.6 L1756.2 904.8 L1758.0 910.6 L1759.5 916.3 L1760.9 922.1 L1762.4 928.0 L1764.2 934.9 L1765.9 941.2 L1767.0 925.7 L1768.1 910.5 L1769.4 892.7 L1770.7 875.0 L1772.2 857.1 L1773.7 839.5 L1775.2 821.9 L1776.5 802.4 L1777.8 783.0 L1779.4 775.5 L1781.0 768.5 L1782.3 762.2 L1783.7 756.0 L1785.3 751.8 L1786.9 746.8 L1788.5 742.5 L1790.4 738.6 L1792.4 735.9 L1794.3 732.2 L1796.2 730.8 L1798.2 730.7 L1800.1 729.9 L1802.1 727.3 L1804.0 727.3 L1805.8 727.3 L1807.5 726.2 L1809.3 726.6 L1811.1 726.3 L1813.0 727.1 L1814.9 728.1 L1816.8 730.4 L1818.6 732.3 L1820.5 733.5 L1822.3 735.2 L1823.8 737.8 L1825.4 740.4 L1827.0 742.0 L1828.5 744.3 L1829.9 747.6 L1831.3 751.3 L1832.7 754.4 L1834.3 766.7 L1836.0 779.1 L1837.2 793.0 L1838.7 804.1 L1840.2 805.2 L1841.8 805.1 L1843.4 806.2 L1844.9 807.9 L1846.6 811.4 L1848.2 815.0 L1849.9 818.8 L1851.6 827.0 L1853.1 820.3 L1854.6 813.9 L1856.1 809.6 L1857.6 805.5 L1858.8 812.4 L1860.1 819.0 L1861.3 838.7 L1862.8 853.5 L1864.7 878.5 L1866.5 903.2 L1868.1 919.7 L1869.8 936.5 L1871.4 952.9 L1873.3 976.5 L1875.2 1000.0 L1876.7 1019.9 L1878.1 1039.7 L1879.4 1050.1 L1880.9 1039.6 L1882.2 1019.9 L1883.6 1000.0 L1885.3 952.9 L1886.8 915.6 L1888.8 893.4 L1890.5 883.3 L1892.2 888.4 L1893.8 893.2 L1895.5 898.7 L1896.8 885.9 L1898.5 853.8 L1899.8 841.2 L1901.0 828.8 L1902.6 816.5 L1904.2 804.3 L1905.7 798.9 L1907.2 793.9 L1908.7 789.9 L1910.1 789.0 L1911.5 787.2 L1912.9 785.9 L1914.8 791.7 L1916.6 796.5 L1918.4 805.5 L1920.3 814.1 L1922.0 816.7 L1923.6 818.2 L1925.3 821.4 L1926.9 819.4 L1928.6 818.6 L1930.2 817.9 L1932.1 811.1 L1934.0 803.9 L1936.0 791.9 L1937.5 808.0 L1939.0 786.0 L1940.5 806.0 L1942.0 782.9 L1943.5 805.0 L1945.0 781.0 L1946.5 803.1 L1948.0 778.8 L1950.0 792.0"/>
<path stroke="#ff3f3f" stroke-width="10" d="M1768.2 878 L1770.4 782.4"/>
<path stroke="#ff3f3f" stroke-width="8" d="M1257.3 697.5 L1258.1 684.0 L1259.5 684.0 L1260.5 697.5"/>
</g>
<g stroke="#f00" stroke-width="3.6" stroke-linecap="butt">
<line x1="365.5" y1="656.5" x2="365.5" y2="737.0"/>
<line x1="749.0" y1="641.0" x2="749.0" y2="694.0"/>
<line x1="1389.4" y1="668.0" x2="1389.4" y2="721.5"/>
<line x1="1513.7" y1="679.0" x2="1513.7" y2="732.3"/>
<line x1="1640.3" y1="774.2" x2="1640.3" y2="828.0"/>
<line x1="1737.1" y1="858.6" x2="1737.1" y2="911.3"/>
<line x1="1765.8" y1="914.8" x2="1765.8" y2="969.0"/>
<line x1="1772.9" y1="680.2" x2="1772.9" y2="733.3"/>
<line x1="1880.5" y1="1016.0" x2="1880.5" y2="1069.0"/>
<line x1="1928.2" y1="794.0" x2="1928.2" y2="846.7"/>
<line x1="1943.8" y1="695.0" x2="1943.8" y2="748.2"/>
</g>
<g class="an">
<text fill="#000" transform="translate(379.4 646.0) rotate(-90)">3753.12</text>
<text fill="#f00" transform="translate(379.3 852.0) rotate(-90)">3753.1</text>
<text fill="#f00" transform="translate(762.2 836.2) rotate(-90)">3001.6</text>
<text fill="#000" transform="translate(1403.2 629.0) rotate(-90)">1746.62</text>
<text fill="#f00" transform="translate(1527.3 873.5) rotate(-90)">1503.1</text>
<text fill="#f00" transform="translate(1653.2 966.0) rotate(-90)">1254.9</text>
<text fill="#f00" transform="translate(1730.4 1051.0) rotate(-90)">1065.3</text>
<text fill="#f00" transform="translate(1794.2 1108.8) rotate(-90)">1009.1</text>
<text fill="#000" transform="translate(1786.1 641.5) rotate(-90)">995.06</text>
<text fill="#f00" transform="translate(1893.2 1193.0) rotate(-90)">784.3</text>
<text fill="#f00" transform="translate(1938.2 969.5) rotate(-90)">690.7</text>
<text fill="#000" transform="translate(1937.0 656.0) rotate(-90)">660.25</text>
</g>
<g fill="none" stroke-width="10" stroke-linecap="round">
<line x1="367.5" y1="1147" x2="527" y2="1147" stroke="#505050"/>
<line x1="367.5" y1="1235" x2="527" y2="1235" stroke="#ff3f3f"/>
</g>
<text class="lg" x="545" y="1171">bare</text>
<text class="lg" x="545" y="1259">coating</text>
</svg></body></html>
